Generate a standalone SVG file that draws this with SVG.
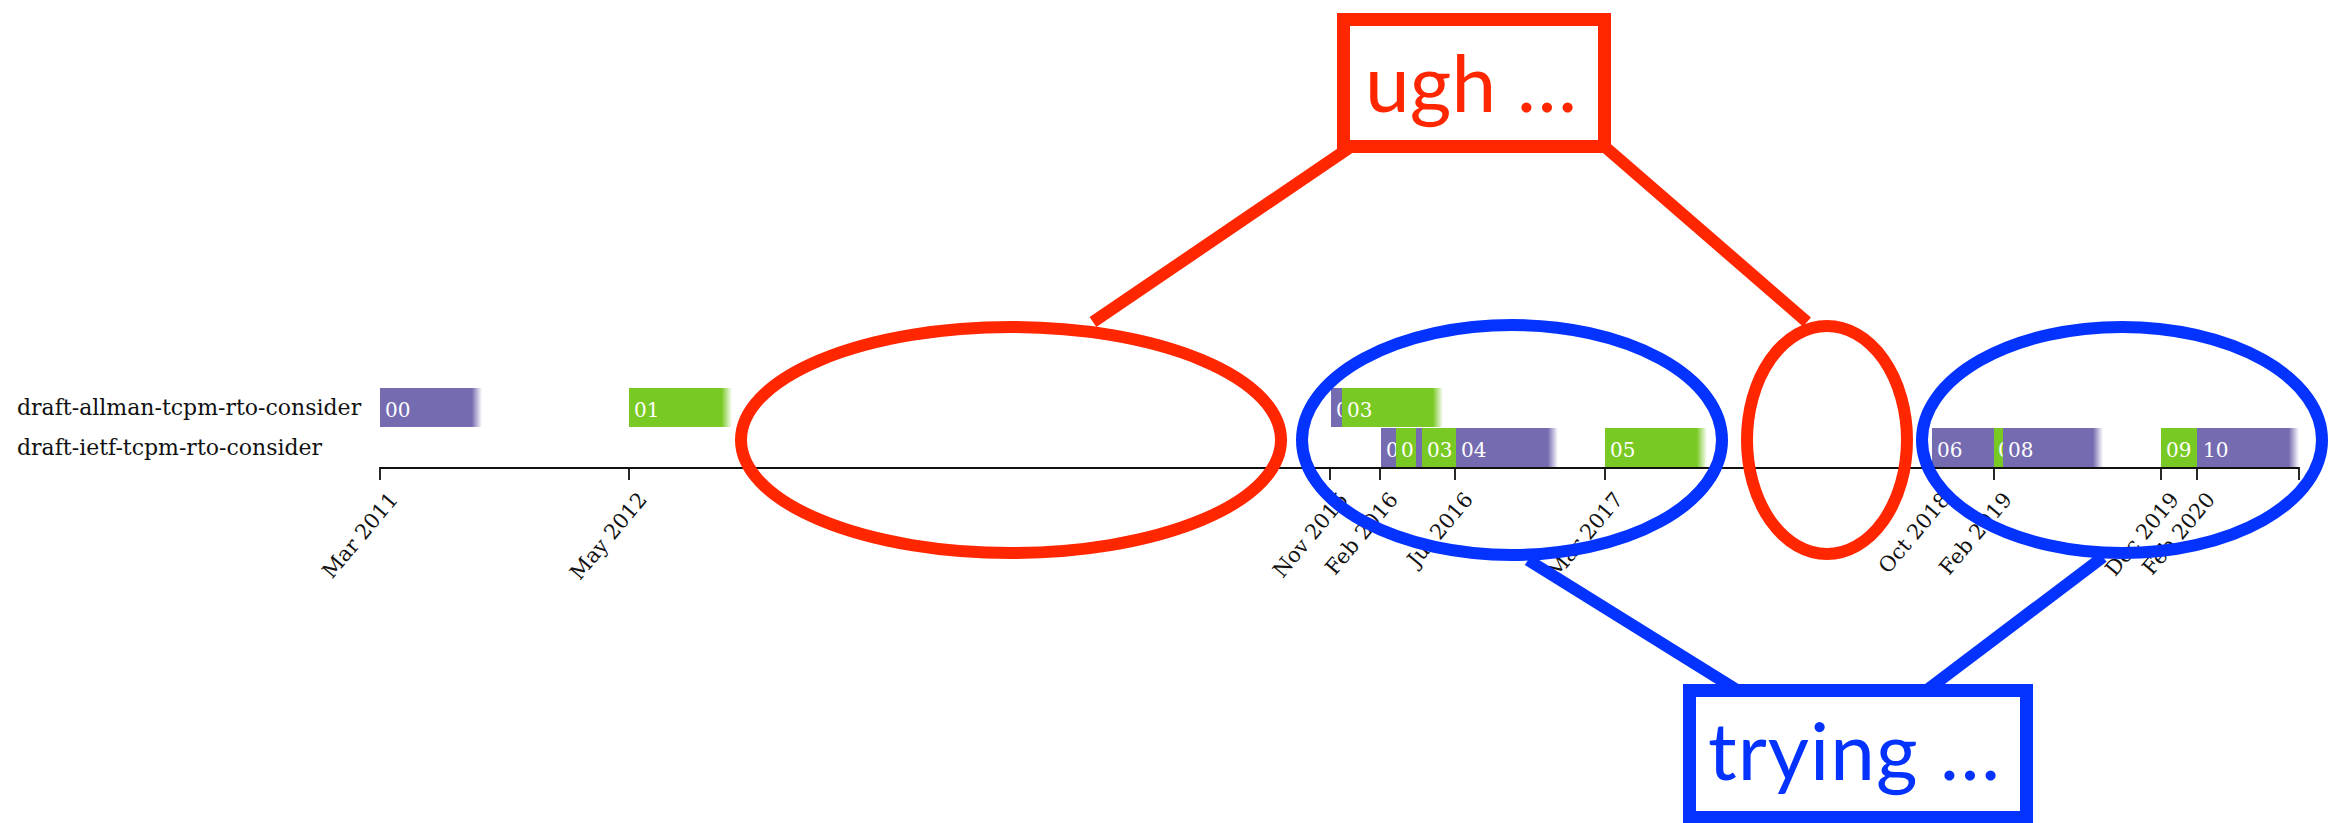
<svg xmlns="http://www.w3.org/2000/svg" width="2336" height="823" viewBox="0 0 2336 823">
<style>
.rowlabel{font-family:"DejaVu Serif","Liberation Serif",serif;font-size:22px;fill:#111}
.tick{font-family:"DejaVu Serif","Liberation Serif",serif;font-size:21px;fill:#111;text-anchor:end}
.barlabel{font-family:"DejaVu Serif","Liberation Serif",serif;font-size:20px;fill:#fff}
.p{fill:#756bb1}.g{fill:#79c924}
.pf{fill:url(#pfade)}.gf{fill:url(#gfade)}
.axis{stroke:#111;stroke-width:1.8;fill:none}
.red{stroke:#ff2600;stroke-width:12;fill:none}
.blue{stroke:#0433ff;stroke-width:12;fill:none}
.redbox{stroke:#ff2600;stroke-width:13;fill:#fff}
.bluebox{stroke:#0433ff;stroke-width:13;fill:#fff}
.callout{font-family:Lato,"Open Sans","Noto Sans",sans-serif;font-size:80px}
</style>
<defs>
<linearGradient id="pfade" x1="0" y1="0" x2="1" y2="0">
<stop offset="0" stop-color="#756bb1"/><stop offset="0.9" stop-color="#756bb1"/><stop offset="1" stop-color="#756bb1" stop-opacity="0"/>
</linearGradient>
<linearGradient id="gfade" x1="0" y1="0" x2="1" y2="0">
<stop offset="0" stop-color="#79c924"/><stop offset="0.9" stop-color="#79c924"/><stop offset="1" stop-color="#79c924" stop-opacity="0"/>
</linearGradient>
</defs>

<g id="row-labels">
<text class="rowlabel" x="17" y="415">draft-allman-tcpm-rto-consider</text>
<text class="rowlabel" x="17" y="455">draft-ietf-tcpm-rto-consider</text>
</g>

<g id="row-allman">
<svg x="380" y="388" width="102" height="39"><rect class="pf" width="102" height="39"/><text class="barlabel" x="5" y="29">00</text></svg>
<svg x="629" y="388" width="103" height="39"><rect class="gf" width="103" height="39"/><text class="barlabel" x="5" y="29">01</text></svg>
<svg x="1331" y="388" width="11" height="39"><rect class="p" width="11" height="39"/><text class="barlabel" x="5" y="29">02</text></svg>
<svg x="1342" y="388" width="101" height="39"><rect class="gf" width="101" height="39"/><text class="barlabel" x="5" y="29">03</text></svg>
</g>

<g id="row-ietf">
<svg x="1381" y="428" width="15" height="39"><rect class="p" width="15" height="39"/><text class="barlabel" x="5" y="29">00</text></svg>
<svg x="1396" y="428" width="20" height="39"><rect class="g" width="20" height="39"/><text class="barlabel" x="5" y="29">01</text></svg>
<svg x="1416" y="428" width="6" height="39"><rect class="p" width="6" height="39"/><text class="barlabel" x="5" y="29">02</text></svg>
<svg x="1422" y="428" width="34" height="39"><rect class="g" width="34" height="39"/><text class="barlabel" x="5" y="29">03</text></svg>
<svg x="1456" y="428" width="102" height="39"><rect class="pf" width="102" height="39"/><text class="barlabel" x="5" y="29">04</text></svg>
<svg x="1605" y="428" width="102" height="39"><rect class="gf" width="102" height="39"/><text class="barlabel" x="5" y="29">05</text></svg>
<svg x="1932" y="428" width="62" height="39"><rect class="p" width="62" height="39"/><text class="barlabel" x="5" y="29">06</text></svg>
<svg x="1994" y="428" width="9" height="39"><rect class="g" width="9" height="39"/><text class="barlabel" x="4" y="29">07</text></svg>
<svg x="2003" y="428" width="100" height="39"><rect class="pf" width="100" height="39"/><text class="barlabel" x="5" y="29">08</text></svg>
<svg x="2161" y="428" width="36" height="39"><rect class="g" width="36" height="39"/><text class="barlabel" x="5" y="29">09</text></svg>
<svg x="2197" y="428" width="102" height="39"><rect class="pf" width="102" height="39"/><text class="barlabel" x="6" y="29">10</text></svg>
</g>

<g id="axis">
<path class="axis" d="M380,480V468H2299V480"/>
<path class="axis" d="M629,468V480M1330,468V480M1380,468V480M1455,468V480M1605,468V480M1932,468V480M1994,468V480M2161,468V480M2197,468V480"/>
<text class="tick" transform="translate(399,500) rotate(-50)">Mar 2011</text>
<text class="tick" transform="translate(648,500) rotate(-50)">May 2012</text>
<text class="tick" transform="translate(1349,500) rotate(-50)">Nov 2015</text>
<text class="tick" transform="translate(1399,500) rotate(-50)">Feb 2016</text>
<text class="tick" transform="translate(1474,500) rotate(-50)">Jul 2016</text>
<text class="tick" transform="translate(1624,500) rotate(-50)">Mar 2017</text>
<text class="tick" transform="translate(1951,500) rotate(-50)">Oct 2018</text>
<text class="tick" transform="translate(2013,500) rotate(-50)">Feb 2019</text>
<text class="tick" transform="translate(2180,500) rotate(-50)">Dec 2019</text>
<text class="tick" transform="translate(2216,500) rotate(-50)">Feb 2020</text>
</g>

<g id="connectors">
<line class="red" x1="1093" y1="322" x2="1349" y2="148"/>
<line class="red" x1="1604" y1="146" x2="1807" y2="322"/>
<line class="blue" x1="1528" y1="560" x2="1737" y2="690"/>
<line class="blue" x1="2103" y1="557" x2="1927" y2="690"/>
</g>

<g id="ellipse-gap-1"><ellipse class="red" cx="1011" cy="440" rx="270" ry="113"/></g>
<g id="ellipse-gap-2"><ellipse class="red" cx="1827" cy="440" rx="80" ry="114"/></g>
<g id="ellipse-active-1"><ellipse class="blue" cx="1512" cy="440" rx="210" ry="115"/></g>
<g id="ellipse-active-2"><ellipse class="blue" cx="2122" cy="440" rx="200" ry="113"/></g>

<g id="callout-ugh">
<rect class="redbox" x="1343.5" y="19.5" width="261" height="127"/>
<text class="callout" x="1365" y="112" fill="#ff2600" textLength="212">ugh …</text>
</g>

<g id="callout-trying">
<rect class="bluebox" x="1689.5" y="690.5" width="337" height="127"/>
<text class="callout" x="1708" y="780" fill="#0433ff" textLength="292">trying …</text>
</g>
</svg>
